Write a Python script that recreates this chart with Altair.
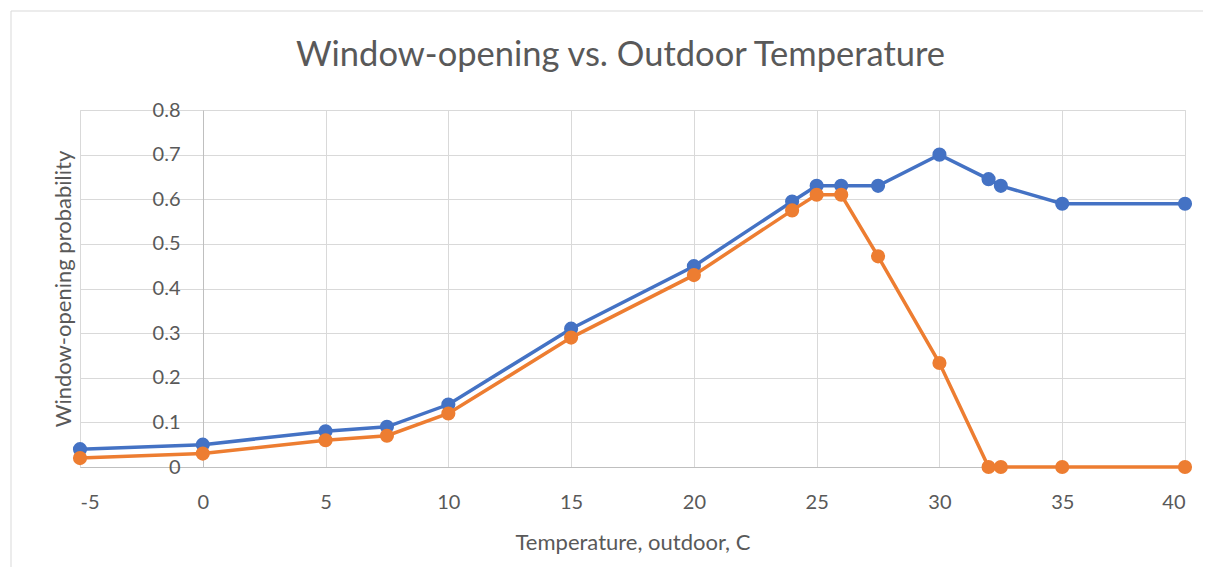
import altair as alt
import pandas as pd

temps = [-5, 0, 5, 7.5, 10, 15, 20, 24, 25, 26, 27.5, 30, 32, 32.5, 35, 40]
blue_vals = [0.04, 0.05, 0.08, 0.09, 0.14, 0.31, 0.45, 0.595, 0.63, 0.63, 0.63, 0.70, 0.645, 0.63, 0.59, 0.59]
orange_vals = [0.02, 0.03, 0.06, 0.07, 0.12, 0.29, 0.43, 0.575, 0.61, 0.61, 0.472, 0.233, 0.0, 0.0, 0.0, 0.0]
x_ticks = [-5, 0, 5, 10, 15, 20, 25, 30, 35, 40]
y_ticks = [0, 0.1, 0.2, 0.3, 0.4, 0.5, 0.6, 0.7, 0.8]

BLUE = "#4472C4"
ORANGE = "#ED7D31"
TXT = "#595959"
FONT = "Lato"

df_b = pd.DataFrame({"t": temps, "p": blue_vals})
df_o = pd.DataFrame({"t": temps, "p": orange_vals})

W, H = 1105, 357

xenc = alt.X(
    "t:Q",
    scale=alt.Scale(domain=[-5, 40], nice=False, zero=False),
    axis=alt.Axis(
        values=x_ticks,
        grid=True,
        gridColor="#d9d9d9",
        gridWidth=1,
        domain=True,
        domainColor="#bfbfbf",
        domainWidth=1,
        ticks=False,
        labelPadding=25,
        labelExpr="datum.value + ''",
        labelFont=FONT,
        labelFontSize=20,
        labelColor=TXT,
        title="Temperature, outdoor, C",
        titleFont=FONT,
        titleFontSize=22,
        titleFontWeight="normal",
        titleColor=TXT,
        titleY=75,
        titleBaseline="middle",
    ),
)
yenc = alt.Y(
    "p:Q",
    scale=alt.Scale(domain=[0, 0.8], nice=False),
    axis=alt.Axis(
        values=y_ticks,
        offset=-123,
        grid=True,
        gridColor="#d9d9d9",
        gridWidth=1,
        domain=True,
        domainColor="#bfbfbf",
        domainWidth=1,
        ticks=False,
        labelPadding=23,
        labelExpr="datum.value == 0 ? '0' : format(datum.value, '.1f')",
        labelFont=FONT,
        labelFontSize=20,
        labelColor=TXT,
        title="Window-opening probability",
        titleFont=FONT,
        titleFontSize=22,
        titleFontWeight="normal",
        titleColor=TXT,
        titleX=-140,
        titleY=H / 2,
        titleAlign="center",
        titleBaseline="middle",
        titleAngle=-90,
    ),
)

one = pd.DataFrame({"a": [0]})
border_top = alt.Chart(one).mark_rule(color="#d9d9d9", strokeWidth=1, clip=False).encode(
    x=alt.value(-69), x2=alt.value(1200), y=alt.value(-99)
)
border_left = alt.Chart(one).mark_rule(color="#d9d9d9", strokeWidth=1, clip=False).encode(
    x=alt.value(-69), y=alt.value(-99), y2=alt.value(600)
)

def series(df, color):
    base = alt.Chart(df)
    line = base.mark_line(color=color, strokeWidth=3.5).encode(x=xenc, y=yenc)
    pts = base.mark_point(filled=True, color=color, size=200, opacity=1).encode(x=xenc, y=yenc)
    return [line, pts]

chart = alt.layer(
    border_top, border_left, *series(df_b, BLUE), *series(df_o, ORANGE)
).properties(
    width=W,
    height=H,
    title=alt.TitleParams(
        "Window-opening vs. Outdoor Temperature",
        font=FONT,
        fontSize=34.5,
        fontWeight="normal",
        color=TXT,
        anchor="middle",
        frame="group",
        baseline="alphabetic",
        offset=0,
        dy=90,
        dx=-12,
    ),
    autosize=alt.AutoSizeParams(type="none"),
    padding={"left": 72, "top": 102, "right": 18, "bottom": 100},
).configure_view(strokeWidth=0).configure(background="white")

chart.save("out.html", embed_options={"renderer": "svg", "actions": False})
